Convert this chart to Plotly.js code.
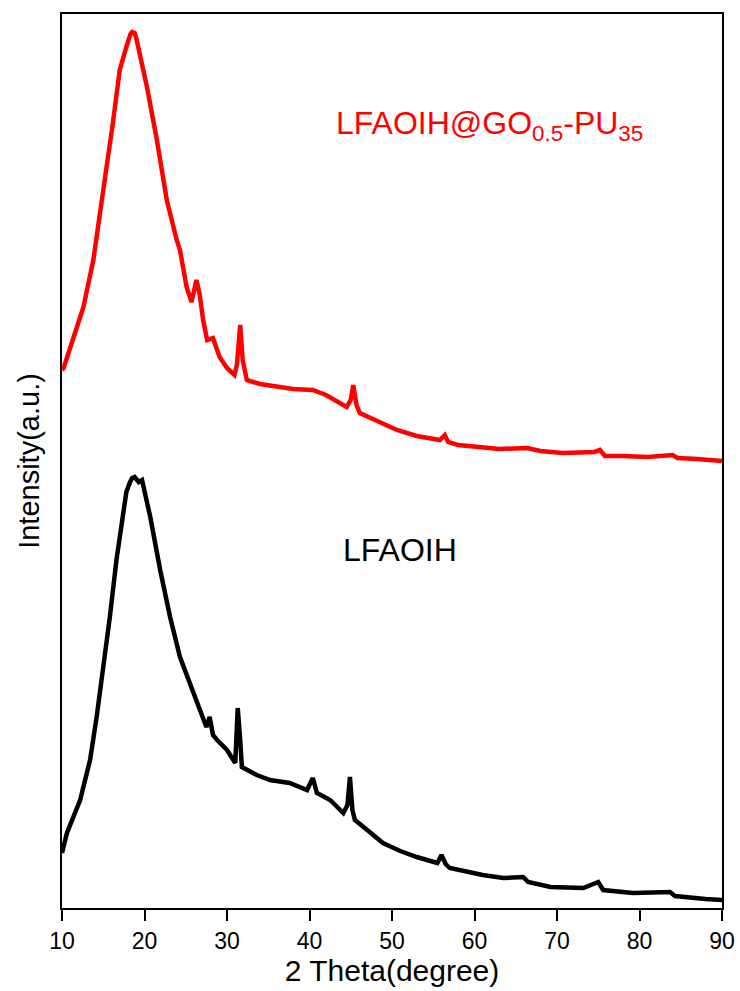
<!DOCTYPE html>
<html><head><meta charset="utf-8">
<script src="https://cdn.plot.ly/plotly-3.0.1.min.js"></script>
<style>html,body{margin:0;padding:0;background:#fff}</style>
</head><body><div id="chart"></div>
<script>
const redX = [10,10.2,11.3,12.6,13.8,14.6,15.4,16.1,17.0,17.8,18.0,18.3,18.5,18.8,19.0,19.2,19.5,20.3,21.5,22.7,23.9,24.3,25.1,25.7,26.3,26.7,27.1,27.6,28.3,28.6,29.1,30.0,30.9,31.2,31.6,31.9,32.4,34,36.4,38,40.4,42,44.5,45.0,45.3,45.7,46.1,48,50.6,53,55.8,56.4,56.8,58,60.3,63,66.4,68,70.7,74.5,75.2,75.8,78,81,84,84.6,87,90];
const redY = [538,540,568,601,648,691,741,781,838,861,868,874,876,875,870,863,851,821,768,708,668,658,621,606,628,613,588,568,570,563,551,540,533,543,583,548,528,524,521,519,518,513,501,508,523,503,495,488,478,472,468,473,466,463,461,459,460,457,455,456,458,452,452,451,453,450,449,447];
const blackX = [10,10.1,10.6,12.2,13.4,14.2,15.0,15.8,16.6,17.4,17.8,18.2,18.5,18.8,19.3,19.7,20.7,21.9,23.1,24.3,25.5,26.7,27.5,27.9,28.3,28.8,30.0,31.0,31.3,31.6,31.8,33.6,35.2,37.6,39.7,40.4,40.9,42.5,44.1,44.6,44.9,45.2,45.5,47,48.9,51,53.0,55.5,56.0,56.5,57.0,61.0,63.5,65.9,66.5,69.2,73.2,75.0,75.6,79.2,83.7,84.3,85.3,88,90];
const blackY = [55,58,75,108,148,191,238,291,348,398,416,425,430,431,426,428,391,338,291,251,225,198,181,191,173,168,158,145,200,168,141,133,128,125,118,130,115,108,95,103,131,98,88,78,65,57,51,45,53,44,40,33,30,31,26,21,20,26,18,15,16,12,11,9,8];
const redLabel = "LFAOIH@GO<sub>0.5</sub>-PU<sub>35</sub>";
const blackLabel = "LFAOIH";
const xTitle = "2 Theta(degree)";
const yTitle = "Intensity(a.u.)";

const F = "Liberation Sans, Arial, sans-serif";
const data = [
  {x: blackX, y: blackY, type: 'scatter', mode: 'lines', line: {color: '#000000', width: 4.5}, hoverinfo: 'skip'},
  {x: redX, y: redY, type: 'scatter', mode: 'lines', line: {color: '#ff0000', width: 4.5}, hoverinfo: 'skip'}
];
const layout = {
  width: 740, height: 991,
  margin: {l: 62, r: 18, t: 14, b: 83},
  paper_bgcolor: '#fff', plot_bgcolor: '#fff',
  showlegend: false,
  font: {family: F, color: '#000'},
  xaxis: {
    range: [10, 90], tick0: 10, dtick: 10, tickmode: 'linear',
    ticks: 'outside', ticklen: 11, tickwidth: 2, tickcolor: '#000000',
    showline: true, linecolor: '#000', linewidth: 2, mirror: true,
    showgrid: false, zeroline: false, automargin: false,
    tickfont: {family: F, size: 23, color: '#000'},
    title: {text: xTitle, font: {family: F, size: 30, color: '#000'}, standoff: 4}
  },
  yaxis: {
    range: [0, 894], showticklabels: false, ticks: '',
    showline: true, linecolor: '#000', linewidth: 2, mirror: true,
    showgrid: false, zeroline: false, automargin: false,
    title: {text: yTitle, font: {family: F, size: 29, color: '#000'}, standoff: 12}
  },
  annotations: [
    {text: redLabel, x: 61.8, y: 783, xref: 'x', yref: 'y', showarrow: false,
     font: {family: F, size: 32, color: '#ff0000'}, xanchor: 'center', yanchor: 'middle'},
    {text: blackLabel, x: 51, y: 358, xref: 'x', yref: 'y', showarrow: false,
     font: {family: F, size: 32, color: '#000'}, xanchor: 'center', yanchor: 'middle'}
  ]
};
Plotly.newPlot('chart', data, layout, {staticPlot: true, displayModeBar: false});
</script></body></html>
